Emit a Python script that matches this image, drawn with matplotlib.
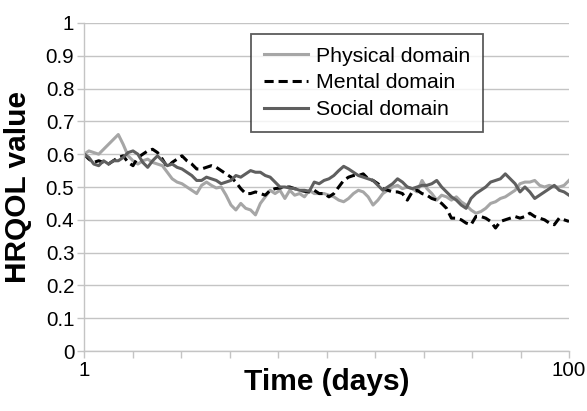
import numpy as np
import matplotlib
matplotlib.use('Agg')
import matplotlib.pyplot as plt

plt.rcParams['font.family'] = ['Liberation Sans', 'DejaVu Sans']

# Daily HRQOL values
days = list(range(1, 101))

physical = [
    0.600, 0.610, 0.605, 0.600, 0.615, 0.630, 0.645, 0.660, 0.630, 0.595,
    0.580, 0.570, 0.580, 0.585, 0.575, 0.570, 0.565, 0.545, 0.525, 0.515,
    0.510, 0.500, 0.490, 0.480, 0.505, 0.515, 0.505, 0.497, 0.500, 0.475,
    0.445, 0.430, 0.450, 0.435, 0.430, 0.415, 0.450, 0.470, 0.490, 0.480,
    0.490, 0.465, 0.490, 0.475, 0.480, 0.470, 0.490, 0.480, 0.480, 0.480,
    0.475, 0.470, 0.460, 0.455, 0.465, 0.480, 0.490, 0.485, 0.470, 0.445,
    0.460, 0.480, 0.490, 0.500, 0.505, 0.495, 0.500, 0.495, 0.485, 0.520,
    0.495, 0.480, 0.460, 0.475, 0.470, 0.460, 0.470, 0.455, 0.445, 0.430,
    0.420, 0.425, 0.435, 0.450, 0.455, 0.465, 0.470, 0.480, 0.490, 0.510,
    0.515, 0.515, 0.520, 0.505, 0.500, 0.505, 0.500, 0.500, 0.505, 0.520,
]

mental = [
    0.600, 0.585, 0.575, 0.580, 0.575, 0.570, 0.580, 0.590, 0.595, 0.575,
    0.565, 0.590, 0.600, 0.610, 0.615, 0.605, 0.585, 0.560, 0.575, 0.585,
    0.595, 0.580, 0.570, 0.555, 0.555, 0.560, 0.565, 0.560, 0.550, 0.540,
    0.530, 0.515, 0.495, 0.480, 0.480, 0.485, 0.480, 0.475, 0.490, 0.495,
    0.497, 0.500, 0.500, 0.495, 0.490, 0.487, 0.485, 0.490, 0.480, 0.480,
    0.470, 0.480, 0.500, 0.520, 0.530, 0.535, 0.535, 0.540, 0.525, 0.520,
    0.510, 0.495, 0.490, 0.485, 0.485, 0.480, 0.460, 0.485, 0.490, 0.480,
    0.475, 0.465, 0.460, 0.450, 0.435, 0.405, 0.405, 0.400, 0.390, 0.385,
    0.410, 0.410, 0.405, 0.395, 0.375, 0.395, 0.400, 0.405, 0.410, 0.405,
    0.410, 0.420, 0.410, 0.405, 0.400, 0.390, 0.385, 0.405, 0.400, 0.395,
]

social = [
    0.600, 0.590, 0.570, 0.565, 0.580, 0.570, 0.580, 0.580, 0.590, 0.605,
    0.610, 0.600, 0.575, 0.560, 0.580, 0.595, 0.580, 0.565, 0.570, 0.560,
    0.555, 0.545, 0.535, 0.520, 0.520, 0.530, 0.525, 0.520, 0.510, 0.515,
    0.520, 0.535, 0.530, 0.540, 0.550, 0.545, 0.545, 0.535, 0.530, 0.515,
    0.500, 0.500, 0.497, 0.495, 0.490, 0.490, 0.487, 0.515, 0.510, 0.520,
    0.525, 0.535, 0.550, 0.563, 0.555, 0.545, 0.535, 0.530, 0.525, 0.520,
    0.505, 0.490, 0.500, 0.510, 0.525, 0.515, 0.500, 0.495, 0.500, 0.505,
    0.505, 0.510, 0.520, 0.500, 0.485, 0.470, 0.460, 0.445, 0.435, 0.465,
    0.480, 0.490, 0.500, 0.515, 0.520, 0.525, 0.540, 0.525, 0.510, 0.485,
    0.500, 0.485, 0.465, 0.475, 0.485, 0.495, 0.505, 0.490, 0.485, 0.475,
]

series_names = ['Physical domain', 'Mental domain', 'Social domain']
y_tick_values = [0, 0.1, 0.2, 0.3, 0.4, 0.5, 0.6, 0.7, 0.8, 0.9, 1]
y_tick_labels = ['0', '0.1', '0.2', '0.3', '0.4', '0.5', '0.6', '0.7', '0.8', '0.9', '1']
x_tick_labels = ['1', '', '', '', '', '', '', '', '', '', '100']

grid_grey = '#c4c4c4'

fig = plt.figure(figsize=(5.87, 4.11), dpi=100)
ax = fig.add_axes([84 / 587, 60 / 411, 485 / 587, 328 / 411])

ax.plot(days, physical, color='#a6a6a6', lw=2.2, label=series_names[0])
ax.plot(days, mental, color='black', lw=2.2, ls=(0, (3, 1.6)), label=series_names[1])
ax.plot(days, social, color='#5f5f5f', lw=2.2, label=series_names[2])

ax.set_xlim(days[0], days[-1])
ax.set_ylim(0, 1)
ax.set_yticks(y_tick_values)
ax.set_yticklabels(y_tick_labels)
ax.set_xticks(np.linspace(days[0], days[-1], len(x_tick_labels)))
ax.set_xticklabels(x_tick_labels)

ax.yaxis.grid(True, color=grid_grey, lw=1.0)
ax.set_axisbelow(True)
for side in ['top', 'right']:
    ax.spines[side].set_visible(False)
for side in ['left', 'bottom']:
    ax.spines[side].set_color(grid_grey)
    ax.spines[side].set_linewidth(1.0)
ax.tick_params(axis='both', colors=grid_grey, length=5, width=1.0,
               labelcolor='black', labelsize=14.8, pad=2)

ax.set_xlabel('Time (days)', fontsize=21.5, fontweight='bold', va='center')
ax.xaxis.set_label_coords(0.5, (351 - 382) / 328)
ax.set_ylabel('HRQOL value', fontsize=21.5, fontweight='bold', va='center', ha='center')
ax.yaxis.set_label_coords((18 - 84) / 485, 0.5)

leg = ax.legend(loc='upper left', bbox_to_anchor=(251 / 587, 1 - 34 / 411),
                bbox_transform=fig.transFigure, fontsize=15.3, frameon=True,
                fancybox=False, handlelength=2.1, handletextpad=0.35,
                labelspacing=0.36, borderpad=0.6, borderaxespad=0)
leg.get_frame().set_edgecolor('#333333')
leg.get_frame().set_linewidth(1.3)

fig.savefig('out.png', dpi=100)
